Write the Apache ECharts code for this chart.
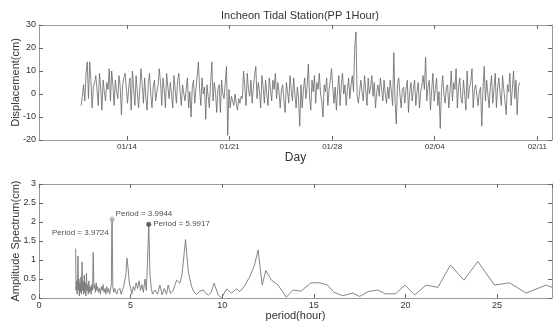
<!DOCTYPE html>
<html><head><meta charset="utf-8">
<script src="https://cdn.jsdelivr.net/npm/echarts@6/dist/echarts.min.js"></script>
<style>html,body{margin:0;padding:0;background:#fff}#c{width:558px;height:321px}</style>
</head><body><div id="c"></div>
<script>
const TITLE = 'Incheon Tidal Station(PP 1Hour)';
const START_DAY = 10.875;      // day-of-year of first plotted sample
const STEP_DAY = 1 / 12;       // sample spacing (2 hours)
const displacement = [
 -5, -1, 4, -3, 9, 14, -2, 14, 6, -6, 3, 5,
 8, 2, -5, 9, 3, -7, 6, 1, -3, 5, 2, 11,
 -3, 10, 4, -5, 6, 1, -2, 8, 3, -9, 4, 7,
 9, 2, -4, 3, 7, -7, 10, 2, -5, 8, 1, -6,
 2, 11, 4, -4, 7, -2, -7, 5, 9, 0, -6, 3,
 6, -3, 1, 4, 11, 5, -5, 7, 2, -6, 9, 3,
 -2, 5, 0, -6, 8, 2, -4, 6, 9, 1, -5, 4,
 4, -3, 2, 7, -6, 1, -10, 3, 6, -4, 2, 8,
 14, 2, -5, 7, 0, 3, -11, 4, -1, -6, 5, 14,
 -3, 5, 1, -8, 2, 4, -8, 6, 0, -2, 5, 12,
 -18, 2, -6, -1, -3, -5, 0, -4, -7, -2, -4, -1,
 -2, 10, 3, -5, 9, 2, -1, 6, -4, 3, 8, 12,
 -2, 5, 1, -6, 8, 3, -4, 6, 0, -5, 7, 2,
 -3, 6, 2, 9, -2, 5, 1, -6, 2, 4, -3, -8,
 5, 1, -4, 8, 2, -3, 7, 0, -6, 3, -2, -14,
 4, -6, 2, 7, -2, 3, 13, -1, -7, 6, 1, 8,
 -4, 5, 2, 9, 0, -3, -10, 4, 1, 7, -5, 2,
 6, 11, 3, -4, 3, -7, 2, 8, -5, 4, 9, 0,
 4, -5, 2, 7, -2, 4, 8, 1, 20, 27, -1, -4,
 -4, 6, 1, -3, 8, 2, -5, 7, 0, 3, 8, -1,
 5, -6, 1, 4, -1, 7, 2, -3, 6, 0, -4, 3,
 -2, 6, 1, -5, 18, -3, -13, 4, 7, 0, -6, 2,
 3, -4, 2, 6, -8, 1, 5, -3, 2, 6, -5, 1,
 5, -6, 1, 4, 8, 2, 16, -3, 3, 6, -7, 2,
 9, -3, 2, 7, -5, 1, -15, 2, 8, 0, -4, 3,
 4, -6, 1, 10, -3, 5, 2, 11, -6, 3, 7, -2,
 -4, 6, 0, -7, 10, -2, 3, 5, 11, -6, 2, 4,
 4, -5, 1, 3, -14, 2, 12, -3, 6, 0, -6, 3,
 8, -4, 2, 9, -6, 3, 7, 0, -5, 8, 2, -3,
 -9, 4, 1, 9, -5, 2, 10, -2, 6, -9, 3, 5
];
const dayTicks = [14, 21, 28, 35, 42];

const spectrumPeriod = [
 2.00,2.02,2.05,2.08,2.10,2.13,2.15,2.18,2.20,2.23,2.26,2.29,2.32,2.35,2.38,2.41,2.44,2.47,2.50,2.53,
 2.56,2.59,2.62,2.65,2.69,2.72,2.76,2.80,2.84,2.88,2.92,2.96,3.00,3.04,3.08,3.12,3.16,3.20,3.25,3.30,
 3.35,3.40,3.45,3.50,3.55,3.60,3.65,3.70,3.75,3.80,3.85,3.90,3.95,3.97,3.99,4.03,4.08,4.13,4.18,4.24,
 4.30,4.36,4.42,4.48,4.55,4.62,4.68,4.74,4.80,4.86,4.93,5.00,5.07,5.14,5.22,5.30,5.38,5.46,5.54,5.62,
 5.70,5.78,5.86,5.92,5.99,6.06,6.13,6.20,6.33,6.47,6.60,6.72,6.84,6.96,7.05,7.18,7.33,7.51,7.69,7.80,
 8.00,8.15,8.33,8.47,8.60,8.78,8.97,9.10,9.24,9.40,9.56,9.78,9.97,10.24,10.50,10.79,10.96,11.20,11.50,11.75,
 11.96,12.18,12.38,12.69,13.05,13.50,13.87,14.30,14.85,15.30,15.75,16.10,16.57,17.13,17.50,17.97,18.50,18.90,19.45,19.98,
 20.50,21.13,21.77,22.46,23.19,23.95,24.86,25.68,26.59,27.68,28.00
];
const spectrumAmp = [
 1.30,0.20,0.45,0.10,0.35,1.10,0.20,0.50,0.05,0.40,0.15,0.55,0.10,0.95,0.20,0.45,0.10,0.60,0.15,0.40,
 0.05,0.65,0.20,0.35,0.10,0.45,0.15,0.30,0.10,0.35,0.20,1.20,0.25,0.35,0.15,0.40,0.20,0.30,0.15,0.25,
 0.10,0.30,0.20,0.35,0.15,0.25,0.10,0.30,0.15,0.25,0.10,0.20,0.40,1.71,2.07,0.30,0.15,0.25,0.20,0.10,
 0.20,0.15,0.25,0.10,0.20,0.30,0.35,0.60,1.05,0.80,0.40,0.25,0.10,0.30,0.20,0.40,0.25,0.45,0.20,0.35,
 0.15,0.50,0.20,0.90,1.94,0.60,0.25,0.10,0.21,0.10,0.34,0.08,0.25,0.10,0.34,0.12,0.21,0.47,0.39,0.60,
 1.54,0.68,0.30,0.15,0.10,0.18,0.21,0.12,0.08,0.15,0.39,0.08,0.00,0.24,0.13,0.24,0.17,0.30,0.56,0.85,
 1.26,0.34,0.72,0.47,0.34,0.02,0.21,0.18,0.40,0.40,0.34,0.15,0.06,0.13,0.04,0.17,0.21,0.11,0.11,0.34,
 0.08,0.34,0.28,0.87,0.47,0.96,0.34,0.40,0.13,0.34,0.28
];
const peakPeriods = [3.97, 3.99, 5.99];
const peakAmps = [1.71, 2.07, 1.94];
const peakLabels = ['Period = 3.9724', 'Period = 3.9944', 'Period = 5.9917'];

const FONT = 'Liberation Sans, Arial, sans-serif';
const chart = echarts.init(document.getElementById('c'), null, {renderer: 'canvas'});

function dayFmt(v) {
  const d = Math.round(v);
  if (d <= 31) return '01/' + String(d).padStart(2, '0');
  return '02/' + String(d - 31).padStart(2, '0');
}
const borderLine = {show: true, onZero: false, lineStyle: {color: '#9a9a9a', width: 1}};
const tickStyle = {color: '#666', width: 1};

const tsData = displacement.map((v, i) => [START_DAY + i * STEP_DAY, v]);
const spData = spectrumPeriod.map((p, i) => [p, spectrumAmp[i]]);
const peakData = peakPeriods.map((p, i) => ({
  value: [p, peakAmps[i]],
  symbolSize: i === 0 ? 0 : 5,
  itemStyle: {color: i === 1 ? '#aaaaaa' : '#444444'},
  label: i === 0
    ? {show: true, position: 'left', distance: 3, formatter: peakLabels[i]}
    : (i === 1
      ? {show: true, position: 'right', distance: 1, offset: [0, -6], formatter: peakLabels[i]}
      : {show: true, position: 'right', distance: 2, formatter: peakLabels[i]})
}));

chart.setOption({
  animation: false,
  backgroundColor: '#fff',
  title: {
    text: TITLE, left: 295, top: 5, textAlign: 'center',
    textStyle: {fontFamily: FONT, fontSize: 11, fontWeight: 'normal', color: '#333'}
  },
  grid: [
    {left: 39, top: 25, width: 513, height: 115, outerBoundsMode: 'none', containLabel: false},
    {left: 39, top: 184, width: 513, height: 114, outerBoundsMode: 'none', containLabel: false}
  ],
  xAxis: [
    {type: 'value', gridIndex: 0, min: 8, max: 43, axisLine: borderLine,
     axisTick: {inside: true, length: 4, customValues: dayTicks, lineStyle: tickStyle},
     axisLabel: {customValues: dayTicks, formatter: dayFmt, fontSize: 8, color: '#333', margin: 3, fontFamily: FONT},
     splitLine: {show: false},
     name: 'Day', nameLocation: 'middle', nameGap: 12, nameMoveOverlap: false,
     nameTextStyle: {fontFamily: FONT, fontSize: 12, color: '#333'}},
    {type: 'value', gridIndex: 0, position: 'top', min: 8, max: 43, axisLine: borderLine,
     axisTick: {inside: true, length: 4, customValues: dayTicks, lineStyle: tickStyle},
     axisLabel: {show: false}, splitLine: {show: false}},
    {type: 'value', gridIndex: 1, min: 0, max: 28, interval: 5, axisLine: borderLine,
     axisTick: {inside: true, length: 4, lineStyle: tickStyle},
     axisLabel: {fontSize: 9, color: '#333', margin: 3, showMaxLabel: false, fontFamily: FONT},
     splitLine: {show: false},
     name: 'period(hour)', nameLocation: 'middle', nameGap: 12, nameMoveOverlap: false,
     nameTextStyle: {fontFamily: FONT, fontSize: 11, color: '#333'}},
    {type: 'value', gridIndex: 1, position: 'top', min: 0, max: 28, interval: 5, axisLine: borderLine,
     axisTick: {inside: true, length: 4, lineStyle: tickStyle},
     axisLabel: {show: false}, splitLine: {show: false}}
  ],
  yAxis: [
    {type: 'value', gridIndex: 0, min: -20, max: 30, interval: 10, axisLine: borderLine,
     axisTick: {inside: true, length: 4, lineStyle: tickStyle},
     axisLabel: {fontSize: 9, color: '#333', margin: 3, fontFamily: FONT},
     splitLine: {show: false},
     name: 'Displacement(cm)', nameLocation: 'middle', nameGap: 18, nameMoveOverlap: false,
     nameTextStyle: {fontFamily: FONT, fontSize: 11, color: '#333'}},
    {type: 'value', gridIndex: 0, position: 'right', min: -20, max: 30, interval: 10, axisLine: borderLine,
     axisTick: {inside: true, length: 4, lineStyle: tickStyle},
     axisLabel: {show: false}, splitLine: {show: false}},
    {type: 'value', gridIndex: 1, min: 0, max: 3, interval: 0.5, axisLine: borderLine,
     axisTick: {inside: true, length: 4, lineStyle: tickStyle},
     axisLabel: {fontSize: 9, color: '#333', margin: 3, fontFamily: FONT},
     splitLine: {show: false},
     name: 'Amplitude Spectrum(cm)', nameLocation: 'middle', nameGap: 18, nameMoveOverlap: false,
     nameTextStyle: {fontFamily: FONT, fontSize: 11, color: '#333'}},
    {type: 'value', gridIndex: 1, position: 'right', min: 0, max: 3, interval: 0.5, axisLine: borderLine,
     axisTick: {inside: true, length: 4, lineStyle: tickStyle},
     axisLabel: {show: false}, splitLine: {show: false}}
  ],
  series: [
    {type: 'line', xAxisIndex: 0, yAxisIndex: 0, data: tsData, showSymbol: false,
     lineStyle: {color: '#666', width: 0.8}},
    {type: 'line', xAxisIndex: 2, yAxisIndex: 2, data: spData, showSymbol: false,
     lineStyle: {color: '#777', width: 0.9}},
    {type: 'scatter', xAxisIndex: 2, yAxisIndex: 2, data: peakData, symbol: 'circle',
     label: {fontSize: 8, color: '#222', fontFamily: FONT}, z: 5}
  ]
});
</script>
</body></html>
